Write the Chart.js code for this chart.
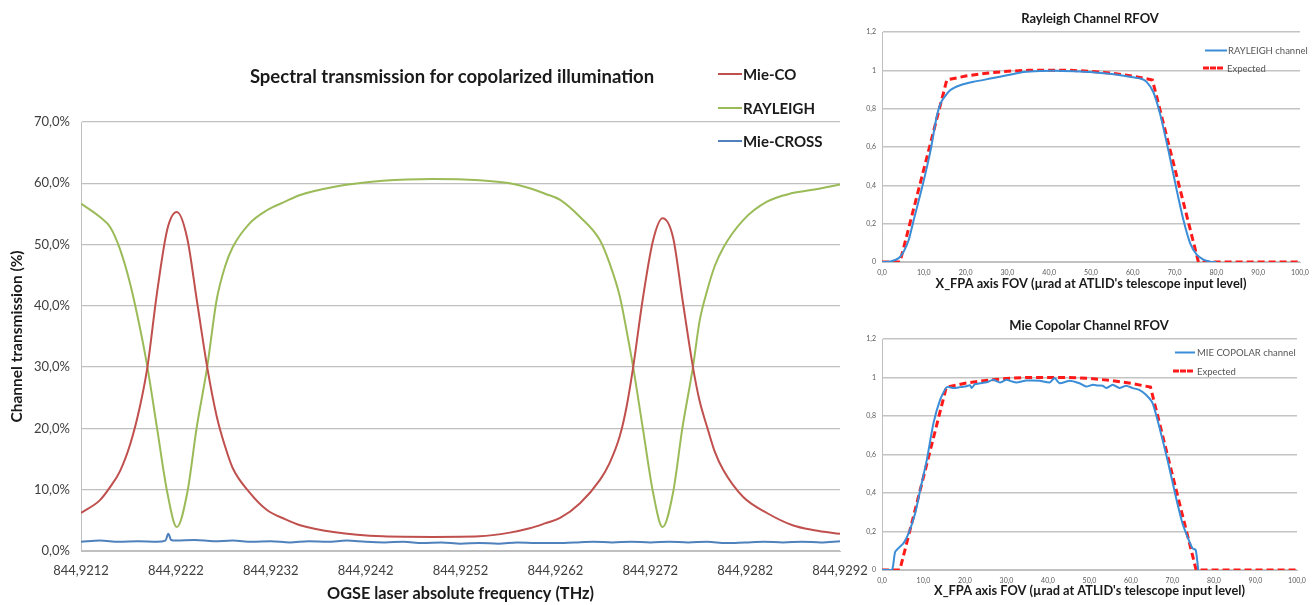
<!DOCTYPE html>
<html>
<head>
<meta charset="utf-8">
<script src="https://cdn.jsdelivr.net/npm/chart.js@4.4.1/dist/chart.umd.min.js"></script>
<style>
body{margin:0;background:#fff;font-family:Lato,sans-serif;}
#page{position:relative;width:1316px;height:605px;overflow:hidden;}
.box{position:absolute;}
.ttl{position:absolute;font-weight:bold;color:#1a1a1a;white-space:nowrap;transform:translate(-50%,-50%);}
.leg{position:absolute;white-space:nowrap;display:flex;align-items:center;transform:translateY(-50%);}
.leg i{display:inline-block;height:0;}
</style>
</head>
<body>
<div id="page">
  <div class="box" style="left:0;top:0;"><canvas id="main" width="880" height="605"></canvas></div>
  <div class="box" style="left:845px;top:0;"><canvas id="ray" width="471" height="300"></canvas></div>
  <div class="box" style="left:845px;top:300px;"><canvas id="mie" width="471" height="305"></canvas></div>
  <div class="ttl" style="left:452px;top:76px;font-size:18.5px;">Spectral transmission for copolarized illumination</div>
  <div class="ttl" style="left:1090px;top:18px;font-size:13px;">Rayleigh Channel RFOV</div>
  <div class="ttl" style="left:1089px;top:325px;font-size:13px;">Mie Copolar Channel RFOV</div>
  <div id="legends"></div>
</div>
<script>
// main chart: frequency (THz) vs transmission (%)
const freqTicks = [844.9212, 844.9222, 844.9232, 844.9242, 844.9252, 844.9262, 844.9272, 844.9282, 844.9292];
const freq = [844.92120, 844.92140, 844.92151, 844.92161, 844.92172, 844.92182, 844.92190, 844.92200, 844.92211, 844.92221,
  844.92232, 844.92242, 844.92253, 844.92263, 844.92272, 844.92280, 844.92298, 844.92316, 844.92335, 844.92351,
  844.92386, 844.92438, 844.92491, 844.92540, 844.92572, 844.92593, 844.92609, 844.92625, 844.92646, 844.92667,
  844.92677, 844.92688, 844.92695, 844.92702, 844.92712, 844.92723, 844.92733, 844.92744, 844.92754, 844.92765,
  844.92772, 844.92780, 844.92788, 844.92797, 844.92818, 844.92843, 844.92870, 844.92893, 844.92920];
const mieCo = [6.2, 8.3, 10.5, 13, 17.5, 23.5, 30, 42, 52.5, 55.3,
  51, 41, 30, 22, 17, 13.5, 9.5, 6.7, 5.2, 4.2,
  3.1, 2.4, 2.3, 2.4, 3, 3.7, 4.5, 5.4, 7.8, 11.6,
  14.3, 18.8, 23.5, 30, 41, 50.7, 54.3, 51.2, 41, 30,
  24.5, 20.2, 16.2, 13.2, 8.8, 6.2, 4.2, 3.4, 2.8];
const rayleigh = [56.7, 54.5, 52.8, 49.3, 43.5, 36.5, 30, 20.2, 9.5, 3.9,
  9.5, 20.2, 30, 41, 46.5, 49.6, 53.5, 55.6, 57, 58.1,
  59.4, 60.4, 60.7, 60.5, 60, 59.2, 58.3, 57.3, 54.5, 50.7,
  47, 41.5, 36, 30, 20.2, 9.5, 3.9, 9.5, 20.2, 30,
  37.5, 42.5, 46.5, 49.5, 54, 57, 58.4, 59, 59.8];
const crossFreq = [844.9212, 844.9214, 844.9216, 844.9218, 844.9220, 844.92209, 844.92212, 844.92215, 844.9222, 844.9224,
  844.9226, 844.9228, 844.9230, 844.9232, 844.9234, 844.9236, 844.9238, 844.9240, 844.9242, 844.9244,
  844.9246, 844.9248, 844.9250, 844.9252, 844.9254, 844.9256, 844.9258, 844.9260, 844.9262, 844.9264,
  844.9266, 844.9268, 844.9270, 844.9272, 844.9274, 844.9276, 844.9278, 844.9280, 844.9282, 844.9284,
  844.9286, 844.9288, 844.9290, 844.9292];
const mieCross = [1.5, 1.7, 1.5, 1.6, 1.5, 1.7, 2.8, 1.8, 1.7, 1.8,
  1.6, 1.7, 1.5, 1.6, 1.4, 1.6, 1.5, 1.7, 1.5, 1.4,
  1.5, 1.3, 1.4, 1.2, 1.3, 1.2, 1.4, 1.3, 1.3, 1.4,
  1.5, 1.4, 1.5, 1.4, 1.5, 1.4, 1.5, 1.3, 1.4, 1.5,
  1.4, 1.5, 1.4, 1.6];
const seriesNames = ['Mie-CO', 'RAYLEIGH', 'Mie-CROSS'];
const seriesColors = ['#C0504D', '#9BBB59', '#4F81BD'];

// right charts: FOV (µrad) vs normalised response
const rayX = [0, 2, 4, 5.2, 6.4, 7.6, 9.6, 11.6, 13.1, 14.3, 16.3, 18.7, 21.9, 25.9, 29.9, 33.9, 37.8, 41.8, 45.8, 49.8,
  53.8, 57.8, 61.8, 63.3, 64.9, 66.5, 68.5, 70.5, 72.1, 73.7, 75.3, 76.9, 78.5, 80];
const rayY = [0, 0.003, 0.02, 0.055, 0.116, 0.22, 0.39, 0.58, 0.76, 0.84, 0.896, 0.922, 0.94, 0.957, 0.974, 0.991, 0.997, 0.998, 0.995, 0.991,
  0.983, 0.972, 0.957, 0.94, 0.887, 0.775, 0.584, 0.376, 0.22, 0.099, 0.038, 0.012, 0.002, 0];
const mieX = [0, 2.4, 3.2, 5.2, 6.4, 8, 9.2, 10.8, 12.4, 14, 15.6, 17.2, 18.8, 20.4, 21.2, 21.6, 22.4, 23.6, 25.2, 26.8,
  28.4, 30, 31.2, 32.4, 34.8, 38, 40.4, 41.6, 42.8, 45.2, 47.6, 49.2, 50.8, 52, 53.2, 54, 55.6, 57.2, 58.8, 60.4,
  62, 63.6, 65.2, 66.8, 68.8, 70.8, 72.4, 73.6, 74.8, 75.6, 76.2];
const mieY = [0, 0, 0.095, 0.14, 0.19, 0.295, 0.416, 0.572, 0.763, 0.884, 0.95, 0.945, 0.95, 0.955, 0.96, 0.945, 0.965, 0.97, 0.975, 0.988,
  0.974, 0.988, 0.98, 0.974, 0.984, 0.983, 0.974, 0.997, 0.97, 0.983, 0.97, 0.953, 0.962, 0.958, 0.957, 0.945, 0.962, 0.945, 0.957, 0.945,
  0.936, 0.91, 0.867, 0.745, 0.572, 0.381, 0.243, 0.173, 0.113, 0.104, 0];
const expX = [0, 4.3, 15.5, 20, 25, 30, 35, 40, 45, 50, 55, 60, 64.7, 75.7, 100];
const expY = [0, 0, 0.95, 0.97, 0.985, 0.995, 1, 1, 1, 0.995, 0.985, 0.97, 0.95, 0, 0];

const pts = (xs, ys) => xs.map((x, i) => ({x: x, y: ys[i]}));
const comma = (v, d) => v.toFixed(d).replace('.', ',');

new Chart(document.getElementById('main'), {
  type: 'line',
  data: {
    datasets: [
      {label: seriesNames[0], data: pts(freq, mieCo), borderColor: seriesColors[0]},
      {label: seriesNames[1], data: pts(freq, rayleigh), borderColor: seriesColors[1]},
      {label: seriesNames[2], data: pts(crossFreq, mieCross), borderColor: seriesColors[2]}
    ]
  },
  options: {
    responsive: false,
    animation: false,
    events: [],
    datasets: {line: {borderWidth: 2, pointRadius: 0, cubicInterpolationMode: 'monotone'}},
    layout: {padding: {left: 0, top: 122, right: 40, bottom: 0}},
    plugins: {legend: {display: false}, tooltip: {enabled: false}},
    scales: {
      x: {
        type: 'linear',
        min: freqTicks[0],
        max: freqTicks[freqTicks.length - 1],
        afterBuildTicks: s => { s.ticks = freqTicks.map(v => ({value: v})); },
        afterFit: s => { s.height = 54; s.paddingLeft = 0; s.paddingRight = 0; },
        grid: {display: false, drawTicks: false},
        border: {color: '#BFBFBF', width: 1},
        ticks: {autoSkip: false, maxRotation: 0, padding: 12, color: '#404040',
          font: {family: 'Lato', size: 13}, callback: v => comma(v, 4)},
        title: {display: true, text: 'OGSE laser absolute frequency (THz)', color: '#1a1a1a',
          font: {family: 'Lato', size: 16.3, weight: 'bold'}, padding: {top: 0, bottom: 1}}
      },
      y: {
        min: 0,
        max: 70,
        afterFit: s => { s.width = 81; },
        grid: {color: '#C0C0C0', lineWidth: 1.3, drawTicks: false},
        border: {color: '#BFBFBF', width: 1},
        ticks: {stepSize: 10, padding: 11, color: '#404040', font: {family: 'Lato', size: 13},
          callback: v => comma(v, 1) + '%'},
        title: {display: true, text: 'Channel transmission (%)', color: '#1a1a1a',
          font: {family: 'Lato', size: 15.5, weight: 'bold'}, padding: {top: 8, bottom: 0}}
      }
    }
  }
});

function rfovChart(id, bx, by, label, padTop, padRight, xHeight, titlePad) {
  return new Chart(document.getElementById(id), {
    type: 'line',
    data: {
      datasets: [
        {label: label, data: pts(bx, by), borderColor: '#3A8DD6', borderWidth: 2, tension: 0.2},
        {label: 'Expected', data: pts(expX, expY), borderColor: '#FF1A1A', borderWidth: 3, borderDash: [7, 4]}
      ]
    },
    options: {
      responsive: false,
      animation: false,
      events: [],
      datasets: {line: {pointRadius: 0}},
      layout: {padding: {left: 0, top: padTop, right: padRight, bottom: 0}},
      plugins: {legend: {display: false}, tooltip: {enabled: false}},
      scales: {
        x: {
          type: 'linear', min: 0, max: 100,
          afterFit: s => { s.height = xHeight; s.paddingLeft = 0; s.paddingRight = 0; },
          grid: {display: false, drawTicks: false},
          border: {color: '#BFBFBF'},
          ticks: {stepSize: 10, autoSkip: false, maxRotation: 0, padding: 7, color: '#595959',
            font: {family: 'Lato', size: 7}, callback: v => comma(v, 1)},
          title: {display: true, text: "X_FPA axis FOV (\u00b5rad at ATLID's telescope input level)", color: '#1a1a1a',
            font: {family: 'Lato', size: 12.8, weight: 'bold'}, padding: {top: 0, bottom: titlePad}}
        },
        y: {
          min: 0, max: 1.2,
          afterFit: s => { s.width = 37; },
          grid: {color: '#C4C4C4', lineWidth: 1.5, drawTicks: false},
          border: {color: '#BFBFBF'},
          ticks: {stepSize: 0.2, padding: 6, color: '#595959', font: {family: 'Lato', size: 7},
            callback: v => { const r = Number(v.toFixed(1)); return Number.isInteger(r) ? String(r) : comma(r, 1); }}
        }
      }
    }
  });
}
rfovChart('ray', rayX, rayY, 'RAYLEIGH channel', 32, 16, 38, 8);
rfovChart('mie', mieX, mieY, 'MIE COPOLAR channel', 39, 19, 35, 6);

// legends
const legends = document.getElementById('legends');
function addLegend(x, y, color, text, w, style, size, weight, textColor, gap) {
  const d = document.createElement('div');
  d.className = 'leg';
  d.style.left = x + 'px';
  d.style.top = y + 'px';
  d.style.fontSize = size + 'px';
  d.style.fontWeight = weight;
  d.style.color = textColor;
  const line = document.createElement('i');
  line.style.width = w + 'px';
  line.style.borderTop = style + ' ' + color;
  line.style.marginRight = gap + 'px';
  d.appendChild(line);
  d.appendChild(document.createTextNode(text));
  legends.appendChild(d);
}
seriesNames.forEach((n, i) => addLegend(718, 74 + i * 33.5, seriesColors[i], n, 24, '2px solid', 15, 'bold', '#1a1a1a', 1));
addLegend(1205, 50, '#3A8DD6', 'RAYLEIGH channel', 22, '2px solid', 9.5, 'normal', '#555', 1);
addLegend(1203, 68, '#FF1A1A', 'Expected', 20, '3px dashed', 9.5, 'normal', '#555', 4);
addLegend(1175, 352, '#3A8DD6', 'MIE COPOLAR channel', 20, '2px solid', 9.5, 'normal', '#555', 2);
addLegend(1173, 371, '#FF1A1A', 'Expected', 20, '3px dashed', 9.5, 'normal', '#555', 4);
</script>
</body>
</html>
